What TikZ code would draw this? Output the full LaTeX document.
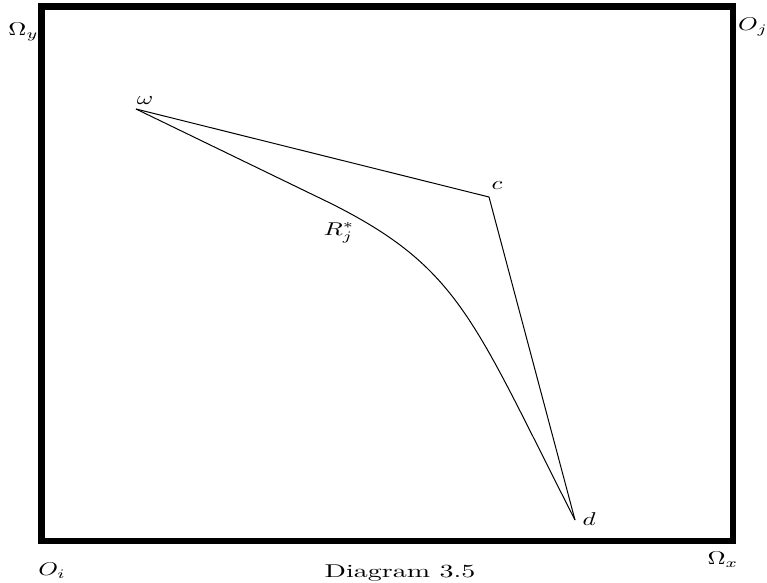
\documentclass[tikz,border=0pt]{standalone}
\begin{document}
\begin{tikzpicture}[x=1pt,y=-1pt,
  lbl/.style={inner sep=0pt,transform shape,xscale=2.5,yscale=1.85},
  thin line/.style={line width=1pt,black}]
\useasboundingbox (0,0) rectangle (767,582);
\draw[line width=6.5pt] (41.5,6.5) rectangle (733,541);
\coordinate (w) at (136,109);
\coordinate (c) at (489,197);
\coordinate (d) at (575,520);
\coordinate (r1) at (330,203);
\draw[thin line] (w) -- (c) -- (d);
\draw[thin line] (w) -- (r1) .. controls (460,268) and (473,320) .. (d);
\node[lbl] (Oy) at (23.5,32) {$\Omega_y$};
\node[lbl] (Oj) at (753,27) {$O_j$};
\node[lbl] (Oi) at (52,571) {$O_i$};
\node[lbl] (Ox) at (723,560) {$\Omega_x$};
\node[lbl,xscale=1.12] (cap) at (400,573) {Diagram 3.5};
\node[lbl] (wl) at (145,101) {$\omega$};
\node[lbl] (cl) at (497,186) {$c$};
\node[lbl] (dl) at (589,519) {$d$};
\node[lbl] (Rl) at (339,233) {$R_j^*$};
\end{tikzpicture}
\end{document}
